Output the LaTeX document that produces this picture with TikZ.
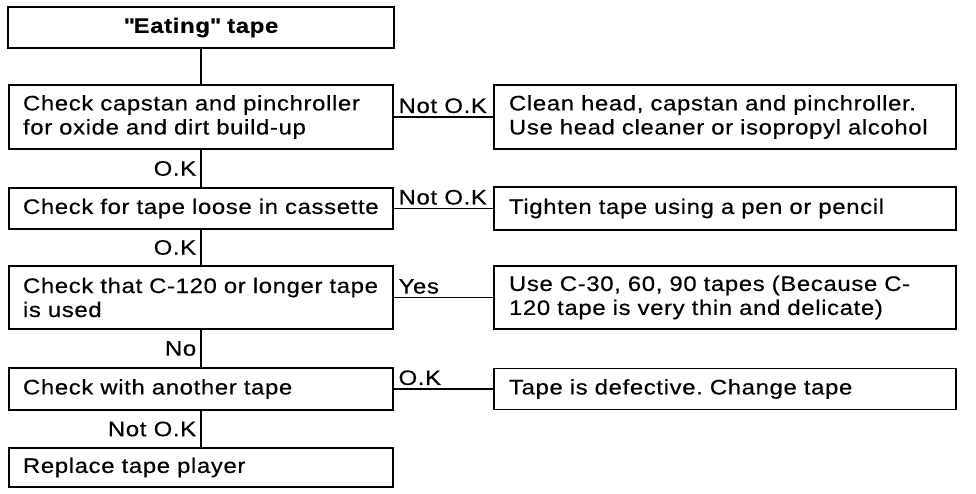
\documentclass[tikz,border=0pt]{standalone}
\usepackage{fontspec}
\setmainfont{Liberation Sans}[FakeStretch=1.14,LetterSpace=3,FakeBold=0.4]

\begin{document}
\frenchspacing
\begin{tikzpicture}[x=1pt,y=-1pt,line width=1.6pt,
  font=\fontsize{21}{24}\selectfont,
  lbox/.style={draw,minimum width=384pt,text width=356pt,inner xsep=14pt,align=left},
  rbox/.style={draw,minimum width=462pt,text width=432pt,inner xsep=15pt,align=left},
  tag/.style={inner xsep=4pt,inner ysep=3pt}]
  \useasboundingbox (0,0) rectangle (976,494);
  \node[draw,font=\fontsize{21}{24}\selectfont\bfseries,minimum width=386pt,minimum height=41pt] (eat) at (201,27.5) {\textquotedbl Eating\textquotedbl{} tape};
  \node[lbox,minimum height=64pt] (capstan) at (201,117) {Check capstan and pinchroller\\for oxide and dirt build-up};
  \node[lbox,minimum height=41pt] (loose) at (201,208.5) {Check for tape loose in cassette};
  \node[lbox,minimum height=63pt] (long) at (201,297.5) {Check that C-120 or longer tape\\is used};
  \node[lbox,minimum height=42pt] (other) at (201,389) {Check with another tape};
  \node[lbox,minimum height=39pt] (player) at (201,467.5) {Replace tape player};
  \node[rbox,minimum height=64pt] (clean) at (725,117) {Clean head, capstan and pinchroller.\\Use head cleaner or isopropyl alcohol};
  \node[rbox,minimum height=43pt] (tighten) at (725,208.5) {Tighten tape using a pen or pencil};
  \node[rbox,minimum height=63pt] (thin) at (725,297.5) {Use C-30, 60, 90 tapes (Because C-\\120 tape is very thin and delicate)};
  \node[rbox,minimum height=41pt] (defect) at (725,389) {Tape is defective. Change tape};
  \draw (eat.south) -- (capstan.north);
  \draw (capstan.south) -- node[left,tag] {O.K} (loose.north);
  \draw (loose.south) -- node[left,tag] {O.K} (long.north);
  \draw (long.south) -- node[left,tag] {No} (other.north);
  \draw (other.south) -- node[left,tag] {Not O.K} (player.north);
  \draw (capstan.east) -- node[pos=0,above right,tag] {Not O.K} (clean.west);
  \draw (loose.east) -- node[pos=0,above right,tag] {Not O.K} (tighten.west);
  \draw (long.east) -- node[pos=0,above right,tag] {Yes} (thin.west);
  \draw (other.east) -- node[pos=0,above right,tag] {O.K} (defect.west);
\end{tikzpicture}
\end{document}
